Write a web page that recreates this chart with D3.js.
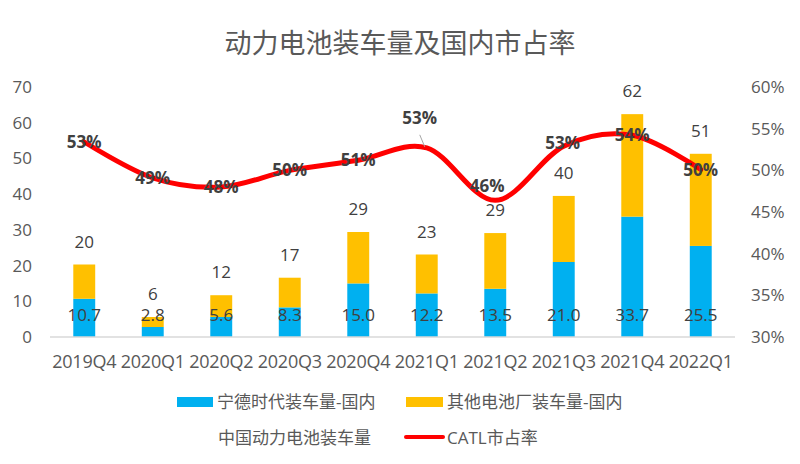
<!DOCTYPE html>
<html>
<head>
<meta charset="utf-8">
<script src="https://cdn.jsdelivr.net/npm/d3@7/dist/d3.min.js"></script>
<style>
  html, body { margin: 0; padding: 0; background: #fff; }
  svg { display: block; }
  text { font-family: "Open Sans", "Noto Sans CJK SC", sans-serif; }
</style>
</head>
<body>
<svg id="chart" width="800" height="464"></svg>
<script>
const categories = ["2019Q4","2020Q1","2020Q2","2020Q3","2020Q4","2021Q1","2021Q2","2021Q3","2021Q4","2022Q1"];
const catlVolume = [10.7, 2.8, 5.6, 8.3, 15.0, 12.2, 13.5, 21.0, 33.7, 25.5];
const totalVolume = [20.3, 5.6, 11.7, 16.6, 29.4, 23.1, 29.1, 39.5, 62.4, 51.3];
const catlShare = [0.534, 0.491, 0.480, 0.500, 0.512, 0.527, 0.464, 0.529, 0.542, 0.501];
const leftTicks = [0, 10, 20, 30, 40, 50, 60, 70];
const rightTicks = [0.30, 0.35, 0.40, 0.45, 0.50, 0.55, 0.60];

(function () {
const otherVolume = totalVolume.map((t, i) => +(t - catlVolume[i]).toFixed(1));
const rows = categories.map((c, i) => ({ cat: c, catl: catlVolume[i], other: otherVolume[i], total: totalVolume[i], share: catlShare[i] }));

const svg = d3.select("#chart");
const pLeft = 50, pRight = 735, pTop = 87, pBottom = 337;
const numFont = "'Open Sans', 'Noto Sans CJK SC', sans-serif";
const cjkFont = "'Noto Sans CJK SC', sans-serif";

const x = d3.scaleBand().domain(categories).range([pLeft, pRight]).paddingInner(0.68).paddingOuter(0.34);
const y = d3.scaleLinear().domain([0, 70]).range([pBottom, pTop]);
const y2 = d3.scaleLinear().domain([0.30, 0.60]).range([pBottom, pTop]);

const grey = "#595959";
const dark = "#404040";
const blue = "#00B0F0", yellow = "#FFC000", red = "#FF0000";

// Title
svg.append("text").attr("x", 400).attr("y", 53).attr("text-anchor", "middle").attr("font-family", cjkFont)
  .attr("font-size", 27).attr("fill", grey).text("动力电池装车量及国内市占率");

// Left axis
const yAxis = d3.axisLeft(y).tickValues(leftTicks).tickSize(0).tickPadding(0).tickFormat(d3.format("d"));
const gy = svg.append("g").attr("transform", `translate(32,0)`).call(yAxis);
gy.select(".domain").remove();
gy.selectAll("text").attr("font-size", 17).attr("fill", grey).attr("font-family", numFont);

// Right axis
const y2Axis = d3.axisRight(y2).tickValues(rightTicks).tickSize(0).tickPadding(0).tickFormat(d3.format(".0%"));
const gy2 = svg.append("g").attr("transform", `translate(751,0)`).call(y2Axis);
gy2.select(".domain").remove();
gy2.selectAll("text").attr("font-size", 17).attr("fill", grey).attr("font-family", numFont);

// Bars
const stack = d3.stack().keys(["catl", "other"])(rows);
const colors = { catl: blue, other: yellow };
svg.append("g").selectAll("g").data(stack).join("g").attr("fill", d => colors[d.key])
  .selectAll("rect").data(d => d).join("rect")
  .attr("x", d => x(d.data.cat)).attr("width", x.bandwidth())
  .attr("y", d => y(d[1])).attr("height", d => y(d[0]) - y(d[1]));

// X axis
const xAxis = d3.axisBottom(x).tickSize(0).tickPadding(0);
const gx = svg.append("g").attr("transform", `translate(0,${pBottom})`).call(xAxis);
gx.select(".domain").attr("stroke", "#d9d9d9").attr("stroke-width", 1.5).attr("d", `M${pLeft},0H${pRight}`);
gx.selectAll("text").attr("font-size", 18).attr("fill", grey).attr("dy", 31)
  .attr("font-family", numFont).attr("letter-spacing", -0.2);

// CATL labels (inside base)
svg.append("g").selectAll("text").data(rows).join("text")
  .attr("x", d => x(d.cat) + x.bandwidth() / 2).attr("y", pBottom - 16)
  .attr("text-anchor", "middle").attr("font-size", 17).attr("fill", dark).attr("font-family", numFont)
  .text(d => d3.format(".1f")(d.catl));

// Total labels
svg.append("g").selectAll("text").data(rows).join("text")
  .attr("x", d => x(d.cat) + x.bandwidth() / 2).attr("y", d => y(d.total) - 17)
  .attr("text-anchor", "middle").attr("font-size", 17).attr("fill", dark).attr("font-family", numFont)
  .text(d => d3.format(".0f")(d.total));

// Share line
const cx = d => x(d.cat) + x.bandwidth() / 2;
const line = d3.line().x(cx).y(d => y2(d.share)).curve(d3.curveCardinal.tension(0));
svg.append("path").datum(rows).attr("d", line).attr("fill", "none")
  .attr("stroke", red).attr("stroke-width", 5).attr("stroke-linecap", "round");

// Share labels
const labelOffset = (d) => {
  if (d.cat === "2021Q1") return [-7, -30];
  if (d.cat === "2021Q2") return [-8, -14];
  if (d.cat === "2021Q3") return [-1, -3];
  return [0, 0];
};
const sg = svg.append("g");
rows.forEach((d) => {
  const [dx, dy] = labelOffset(d);
  if (d.cat === "2021Q1") {
    sg.append("line").attr("x1", cx(d) - 7).attr("y1", y2(d.share) - 13)
      .attr("x2", cx(d) - 2).attr("y2", y2(d.share) - 1).attr("stroke", "#a6a6a6").attr("stroke-width", 1);
  }
  sg.append("text").attr("x", cx(d) + dx).attr("y", y2(d.share) + dy + 6)
    .attr("text-anchor", "middle").attr("font-size", 17).attr("font-weight", "bold").attr("fill", dark)
    .attr("font-family", numFont)
    .text(d3.format(".0%")(d.share));
});

// Legend
const lg = svg.append("g").attr("font-family", cjkFont);
lg.append("rect").attr("x", 177).attr("y", 397).attr("width", 36).attr("height", 10).attr("fill", blue);
lg.append("text").attr("x", 217).attr("y", 408).attr("font-size", 17).attr("fill", grey).attr("font-family", cjkFont).text("宁德时代装车量-国内");
lg.append("rect").attr("x", 406).attr("y", 397).attr("width", 37).attr("height", 10).attr("fill", yellow);
lg.append("text").attr("x", 447).attr("y", 408).attr("font-size", 17).attr("fill", grey).attr("font-family", cjkFont).text("其他电池厂装车量-国内");
lg.append("text").attr("x", 218).attr("y", 444).attr("font-size", 17).attr("fill", grey).attr("font-family", cjkFont).text("中国动力电池装车量");
lg.append("line").attr("x1", 406).attr("x2", 443).attr("y1", 437).attr("y2", 437)
  .attr("stroke", red).attr("stroke-width", 4).attr("stroke-linecap", "round");
lg.append("text").attr("x", 447).attr("y", 444).attr("font-size", 17).attr("fill", grey).attr("font-family", cjkFont).text("CATL市占率");
})();
</script>
</body>
</html>
